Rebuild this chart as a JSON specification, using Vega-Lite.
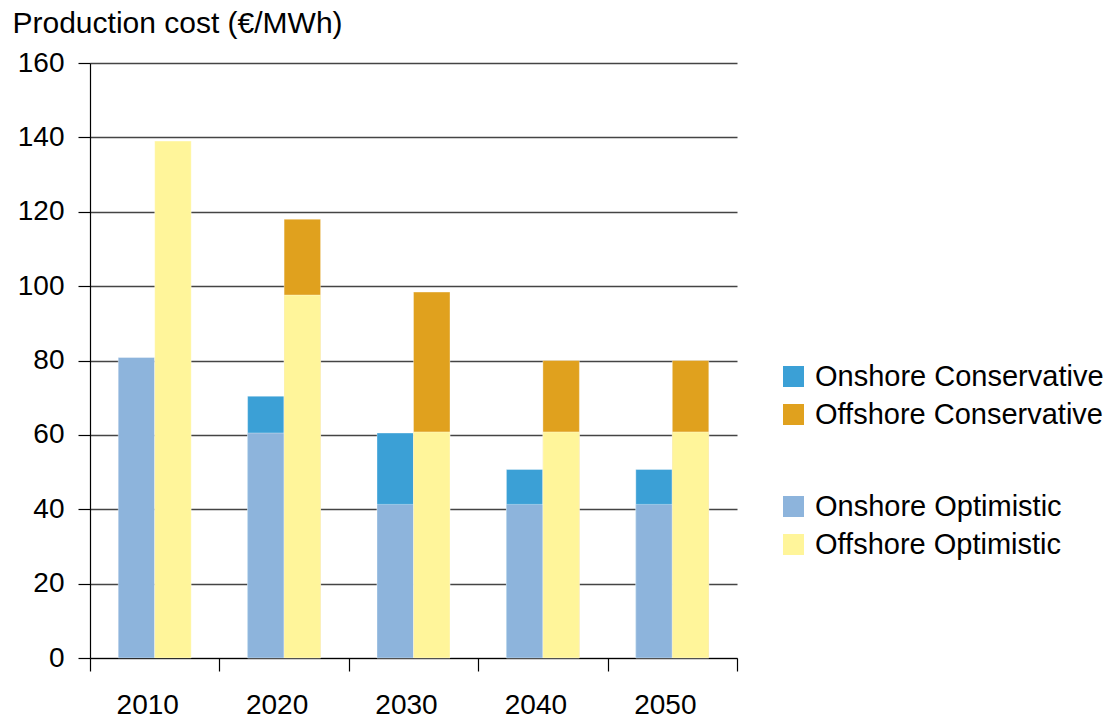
{
  "$schema": "https://vega.github.io/schema/vega-lite/v6.json",
  "width": 647,
  "height": 595,
  "autosize": {"type": "none"},
  "padding": {"left": 90, "top": 63, "right": 383, "bottom": 62},
  "background": "white",
  "config": {
    "view": {"stroke": null},
    "font": "Liberation Sans"
  },
  "data": {
    "values": [
      {"year": 2010, "side": "Onshore", "scenario": "Optimistic", "series": "Onshore Optimistic", "cost": 80.8},
      {"year": 2010, "side": "Offshore", "scenario": "Optimistic", "series": "Offshore Optimistic", "cost": 139},
      {"year": 2020, "side": "Onshore", "scenario": "Optimistic", "series": "Onshore Optimistic", "cost": 60.5},
      {"year": 2020, "side": "Onshore", "scenario": "Conservative", "series": "Onshore Conservative", "cost": 70.4},
      {"year": 2020, "side": "Offshore", "scenario": "Optimistic", "series": "Offshore Optimistic", "cost": 97.6},
      {"year": 2020, "side": "Offshore", "scenario": "Conservative", "series": "Offshore Conservative", "cost": 118},
      {"year": 2030, "side": "Onshore", "scenario": "Optimistic", "series": "Onshore Optimistic", "cost": 41.3},
      {"year": 2030, "side": "Onshore", "scenario": "Conservative", "series": "Onshore Conservative", "cost": 60.5},
      {"year": 2030, "side": "Offshore", "scenario": "Optimistic", "series": "Offshore Optimistic", "cost": 60.8},
      {"year": 2030, "side": "Offshore", "scenario": "Conservative", "series": "Offshore Conservative", "cost": 98.4},
      {"year": 2040, "side": "Onshore", "scenario": "Optimistic", "series": "Onshore Optimistic", "cost": 41.3},
      {"year": 2040, "side": "Onshore", "scenario": "Conservative", "series": "Onshore Conservative", "cost": 50.7},
      {"year": 2040, "side": "Offshore", "scenario": "Optimistic", "series": "Offshore Optimistic", "cost": 60.8},
      {"year": 2040, "side": "Offshore", "scenario": "Conservative", "series": "Offshore Conservative", "cost": 80},
      {"year": 2050, "side": "Onshore", "scenario": "Optimistic", "series": "Onshore Optimistic", "cost": 41.3},
      {"year": 2050, "side": "Onshore", "scenario": "Conservative", "series": "Onshore Conservative", "cost": 50.7},
      {"year": 2050, "side": "Offshore", "scenario": "Optimistic", "series": "Offshore Optimistic", "cost": 60.8},
      {"year": 2050, "side": "Offshore", "scenario": "Conservative", "series": "Offshore Conservative", "cost": 80}
    ]
  },
  "layer": [
    {
      "transform": [{"filter": "datum.scenario === 'Conservative'"}],
      "mark": {"type": "bar", "stroke": "#ffffff", "strokeOpacity": 0.35, "strokeWidth": 1},
      "encoding": {
        "x": {
          "field": "year", "type": "ordinal",
          "scale": {"domain": [2010, 2020, 2030, 2040, 2050], "paddingInner": 0.436, "paddingOuter": 0.218},
          "axis": {"title": null, "ticks": false, "domain": true, "domainColor": "#000000", "domainWidth": 1.2, "labelFontSize": 28, "labelColor": "#000000", "labelPadding": 33, "labelAngle": 0, "labelOffset": -7}
        },
        "xOffset": {"field": "side", "type": "nominal", "sort": ["Onshore", "Offshore"], "scale": {"domain": ["Onshore", "Offshore"], "paddingInner": 0}},
        "y": {
          "field": "cost", "type": "quantitative", "stack": null,
          "scale": {"domain": [0, 160]},
          "axis": {
            "values": [0, 20, 40, 60, 80, 100, 120, 140, 160],
            "title": "Production cost (€/MWh)",
            "titleAngle": 0, "titleAlign": "left", "titleBaseline": "alphabetic",
            "titleX": -78, "titleY": -31, "titleFontSize": 30, "titleFontWeight": "normal", "titleColor": "#000000",
            "labelFontSize": 28, "labelColor": "#000000", "labelPadding": 14,
            "tickSize": 12, "tickColor": "#000000", "tickWidth": 1.2,
            "domainColor": "#000000", "domainWidth": 1.2,
            "grid": true, "gridColor": "#444444", "gridWidth": 1.5
          }
        },
        "fill": {
          "field": "series", "type": "nominal",
          "scale": {"domain": ["Onshore Conservative", "Offshore Conservative"], "range": ["#3ba0d6", "#e0a11e"]},
          "legend": {"title": null, "orient": "none", "legendX": 689, "legendY": 299, "symbolType": "square", "symbolSize": 441, "symbolStrokeWidth": 0, "labelFontSize": 29, "labelLimit": 0, "labelColor": "#000000", "labelOffset": 7, "rowPadding": 8, "padding": 0}
        }
      }
    },
    {
      "transform": [{"filter": "datum.scenario === 'Optimistic'"}],
      "mark": {"type": "bar", "stroke": "#ffffff", "strokeOpacity": 0.35, "strokeWidth": 1},
      "encoding": {
        "x": {
          "field": "year", "type": "ordinal",
          "scale": {"domain": [2010, 2020, 2030, 2040, 2050], "paddingInner": 0.436, "paddingOuter": 0.218},
          "axis": null
        },
        "xOffset": {"field": "side", "type": "nominal", "sort": ["Onshore", "Offshore"], "scale": {"domain": ["Onshore", "Offshore"], "paddingInner": 0}},
        "y": {"field": "cost", "type": "quantitative", "stack": null},
        "color": {
          "field": "series", "type": "nominal",
          "scale": {"domain": ["Onshore Optimistic", "Offshore Optimistic"], "range": ["#8db4dc", "#fff59a"]},
          "legend": {"title": null, "orient": "none", "legendX": 689, "legendY": 429, "symbolType": "square", "symbolSize": 441, "symbolStrokeWidth": 0, "labelFontSize": 29, "labelLimit": 0, "labelColor": "#000000", "labelOffset": 7, "rowPadding": 8, "padding": 0}
        }
      }
    },
    {
      "data": {"values": [{"b": 0}, {"b": 5}]},
      "mark": {"type": "rule", "opacity": 0},
      "encoding": {
        "x": {
          "field": "b", "type": "quantitative",
          "scale": {"domain": [0, 5], "nice": false, "zero": false},
          "axis": {"orient": "bottom", "values": [0, 1, 2, 3, 4, 5], "labels": false, "domain": false, "grid": false, "ticks": true, "tickSize": 13, "tickColor": "#000000", "tickWidth": 1.2, "title": null}
        }
      }
    }
  ],
  "resolve": {"scale": {"x": "independent"}}
}
